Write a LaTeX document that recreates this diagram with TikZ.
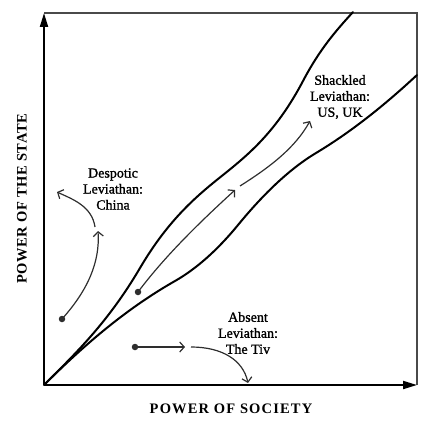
\documentclass[tikz,border=0pt]{standalone}
\usepackage{fontspec}
\setmainfont{Liberation Serif}
\newfontfamily\labfont[FakeBold=1.2]{Liberation Serif}
\newfontfamily\xlabfont[LetterSpace=8]{Liberation Serif}
\newfontfamily\ylabfont[LetterSpace=4]{Liberation Serif}
\usetikzlibrary{arrows.meta}
\definecolor{arrowgray}{HTML}{2E2E2E}
\definecolor{bordergray}{HTML}{4A4A4A}
\begin{document}
\begin{tikzpicture}[x=1pt,y=-1pt,
  curve/.style={line width=2pt, black, line join=round, line cap=round},
  move/.style={line width=1.2pt, draw=arrowgray, -{Straight Barb[length=4.5pt,width=10pt]}},
  dotmark/.style={circle, fill=arrowgray, inner sep=0pt, minimum size=6.5pt},
  lab/.style={align=center, font=\labfont\fontsize{14}{16}\selectfont, inner sep=0pt},
  axis/.style={line width=2pt, black, -{Triangle[length=14pt,width=8pt]}}]
\useasboundingbox (0,0) rectangle (435,425);
% frame coordinates
\coordinate (O) at (44,385);
\coordinate (YT) at (44,13);
\coordinate (XR) at (417,385);
\coordinate (TR) at (417,13);
% border
\draw[line width=1.1pt, bordergray] (YT) -- (TR) -- (XR);
% axes
\draw[axis] (O) -- (YT);
\draw[axis] (O) -- (XR);
% upper curve
\draw[curve] (O) .. controls (76,353) and (108,322.4) .. (140,268)
  .. controls (166,223.8) and (192,199.8) .. (218,179)
  .. controls (246,156.6) and (275,134.2) .. (303,81)
  .. controls (320,48.7) and (336,30.7) .. (353,12);
% lower curve
\draw[curve] (O) .. controls (94,335) and (135,303.8) .. (175,281)
  .. controls (196,269) and (217,250.6) .. (238,225)
  .. controls (264,193.3) and (290,168.6) .. (316,153)
  .. controls (350,132.6) and (383,106.6) .. (417,75);
% dots
\node[dotmark] (d1) at (62,319) {};
\node[dotmark] (d2) at (138,292) {};
\node[dotmark] (d3) at (135,347) {};
% arrow ends
\coordinate (a1) at (98,231);
\coordinate (b1) at (95,227);
\coordinate (a2) at (57,192);
\coordinate (c1) at (235,190);
\coordinate (e1) at (240,186);
\coordinate (c2) at (310,121);
\coordinate (f1) at (185,347);
\coordinate (g1) at (191,347);
\coordinate (f2) at (248,383);
% despotic
\draw[move] (d1.center) .. controls (88,290) and (100,262) .. (a1);
\draw[move] (b1) .. controls (92,206) and (72,199) .. (a2);
% shackled
\draw[move] (d2.center) .. controls (165,256) and (200,222) .. (c1);
\draw[move] (e1) .. controls (270,167) and (295,148) .. (c2);
% absent
\draw[move] (d3.center) -- (f1);
\draw[move] (g1) .. controls (222,347) and (243,360) .. (f2);
% labels
\node[lab] (despotic) at (113,189) {Despotic\\Leviathan:\\China};
\node[lab] (shackled) at (340,97) {Shackled\\Leviathan:\\US, UK};
\node[lab] (absent) at (248,333) {Absent\\Leviathan:\\The Tiv};
\node[inner sep=0pt, font=\xlabfont\bfseries\fontsize{14.5}{16}\selectfont] (xlab) at (231,408.5) {POWER OF SOCIETY};
\node[inner sep=0pt, rotate=90, font=\ylabfont\bfseries\fontsize{14.5}{16}\selectfont] (ylab) at (22,199) {POWER OF THE STATE};
\end{tikzpicture}
\end{document}
